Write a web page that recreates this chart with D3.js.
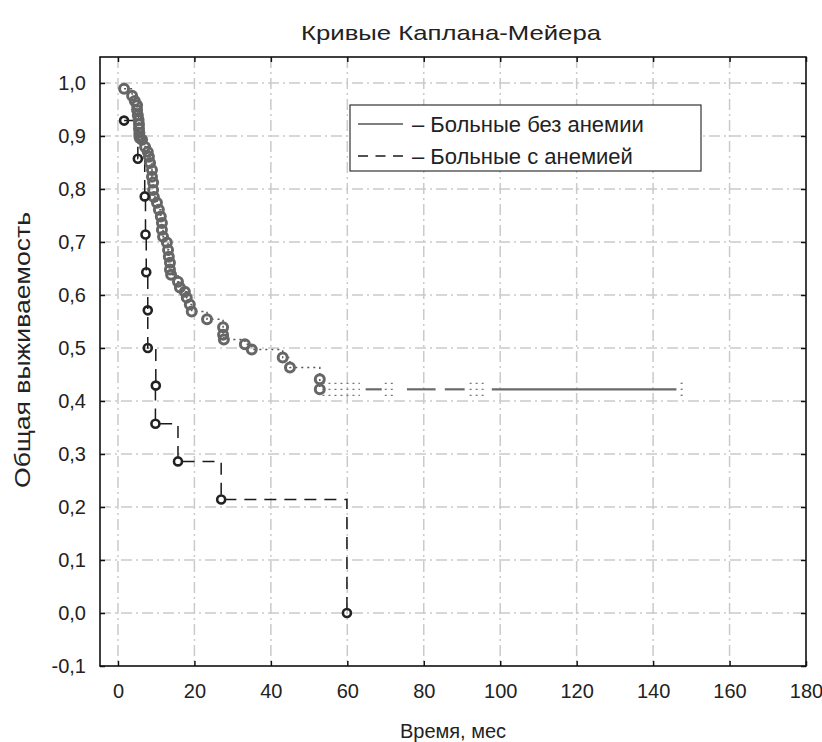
<!DOCTYPE html>
<html>
<head>
<meta charset="utf-8">
<script src="https://cdn.jsdelivr.net/npm/d3@7"></script>
<style>
	body { margin: 0; background: #fff; }
	text { font-family: "Liberation Sans", Arial, sans-serif; fill: #222; }
</style>
</head>
<body>
<svg id="chart" width="822" height="742"></svg>
<script>
(function() {
	'use strict';

	// Больные без анемии: время (мес) и выживаемость в точках
	var noAnemiaTime = [1.6, 3.7, 4.4, 5.0, 5.0, 5.2, 5.4, 5.5, 5.5, 5.6, 5.6, 5.7, 6.3, 7.1, 7.8, 8.1, 8.4, 8.9, 8.9, 9.2, 9.2, 9.4,
		10.2, 10.7, 11.2, 11.5, 11.5, 11.8, 12.8, 13.1, 13.3, 13.6, 13.6, 13.9, 15.7, 16.2, 17.5, 18.0, 18.8, 19.3,
		23.3, 27.5, 27.5, 27.7, 33.2, 35.0, 43.1, 45.0, 52.8, 52.8];
	var noAnemiaSurv = [0.989, 0.976, 0.966, 0.958, 0.949, 0.939, 0.930, 0.922, 0.914, 0.906, 0.900, 0.896, 0.893, 0.879, 0.870, 0.861, 0.849, 0.836, 0.823, 0.812, 0.798, 0.785,
		0.774, 0.761, 0.748, 0.736, 0.723, 0.710, 0.699, 0.685, 0.672, 0.661, 0.648, 0.638, 0.625, 0.614, 0.606, 0.595, 0.582, 0.569,
		0.554, 0.539, 0.525, 0.516, 0.507, 0.497, 0.482, 0.463, 0.441, 0.422];
	// куски хвоста кривой (как на исходном рисунке)
	var tailSolid = [[64.8, 69.0], [75.6, 83.1], [85.5, 90.7], [97.8, 146.1]];
	var tailDotted = [[53.5, 63.3], [69.8, 72.4], [92.0, 96.0], [147.2, 148.2]];

	// Больные с анемией
	var anemiaTime = [1.6, 5.2, 7.0, 7.2, 7.4, 7.8, 7.8, 9.9, 9.8, 15.7, 27.0, 59.9];
	var anemiaSurv = [0.929, 0.857, 0.786, 0.714, 0.643, 0.571, 0.500, 0.429, 0.357, 0.286, 0.214, 0.0];

	var xTicks = [0, 20, 40, 60, 80, 100, 120, 140, 160, 180];
	var yTicks = [-0.1, 0.0, 0.1, 0.2, 0.3, 0.4, 0.5, 0.6, 0.7, 0.8, 0.9, 1.0];
	var legendLabels = ['– Больные без анемии', '– Больные с анемией'];

	var title = 'Кривые Каплана-Мейера';
	var xTitle = 'Время, мес';
	var yTitle = 'Общая выживаемость';

	var left = 100, right = 806, top = 57, bottom = 666;
	var svg = d3.select('#chart');

	var x = d3.scaleLinear().domain([-4.7, 180]).range([left, right]);
	var y = d3.scaleLinear().domain([-0.1, 1.049]).range([bottom, top]);
	var fmt = function(v) { return d3.format('.1f')(v).replace('.', ',').replace('−', '-'); };

	// сетка
	var grid = svg.append('g')
		.attr('stroke', '#cacaca')
		.attr('stroke-width', 1.5)
		.attr('stroke-dasharray', '11,4,2,4');
	grid.selectAll('.gx').data(xTicks.filter(function(d) { return d < 180; }))
		.enter().append('line')
		.attr('x1', function(d) { return x(d); }).attr('x2', function(d) { return x(d); })
		.attr('y1', top).attr('y2', bottom);
	grid.selectAll('.gy').data(yTicks.filter(function(d) { return d > -0.1; }))
		.enter().append('line')
		.attr('y1', function(d) { return y(d); }).attr('y2', function(d) { return y(d); })
		.attr('x1', left).attr('x2', right);

	// оси с внутренними засечками
	var axB = svg.append('g').attr('transform', 'translate(0,' + bottom + ')')
		.call(d3.axisBottom(x).tickValues(xTicks).tickSize(-5).tickPadding(18).tickFormat(d3.format('d')));
	var axT = svg.append('g').attr('transform', 'translate(0,' + top + ')')
		.call(d3.axisTop(x).tickValues(xTicks).tickSize(-5).tickFormat(''));
	var axL = svg.append('g').attr('transform', 'translate(' + left + ',0)')
		.call(d3.axisLeft(y).tickValues(yTicks).tickSize(-5).tickPadding(14).tickFormat(fmt));
	var axR = svg.append('g').attr('transform', 'translate(' + right + ',0)')
		.call(d3.axisRight(y).tickValues(yTicks).tickSize(-5).tickFormat(''));
	[axB, axT, axL, axR].forEach(function(a) {
		a.select('.domain').remove();
		a.selectAll('.tick line').attr('stroke', '#111').attr('stroke-width', 1.5);
		a.selectAll('text').attr('font-size', 20).attr('fill', '#222')
			.attr('font-family', '"Liberation Sans", Arial, sans-serif');
	});
	svg.append('rect')
		.attr('x', left).attr('y', top)
		.attr('width', right - left).attr('height', bottom - top)
		.attr('fill', 'none').attr('stroke', '#111').attr('stroke-width', 1.6);

	// ступенчатые кривые
	function stepPoints(times, surv) {
		var pts = [[times[0], surv[0]]];
		for (var i = 1; i < times.length; i++) {
			pts.push([times[i], surv[i - 1]]);
			pts.push([times[i], surv[i]]);
		}
		return pts;
	}
	var line = d3.line().x(function(d) { return x(d[0]); }).y(function(d) { return y(d[1]); });

	svg.append('path')
		.attr('d', line(stepPoints(noAnemiaTime, noAnemiaSurv)))
		.attr('fill', 'none').attr('stroke', '#555')
		.attr('stroke-width', 1.5).attr('stroke-dasharray', '2,4');

	var lastS = noAnemiaSurv[noAnemiaSurv.length - 1];
	svg.selectAll('.tailS').data(tailSolid).enter().append('line')
		.attr('x1', function(d) { return x(d[0]); }).attr('x2', function(d) { return x(d[1]); })
		.attr('y1', y(lastS)).attr('y2', y(lastS))
		.attr('stroke', '#6a6a6a').attr('stroke-width', 2.2);
	[-6, 0, 6].forEach(function(off) {
		svg.selectAll('.tailD' + (off + 6)).data(tailDotted).enter().append('line')
			.attr('x1', function(d) { return x(d[0]); }).attr('x2', function(d) { return x(d[1]); })
			.attr('y1', y(lastS) + off).attr('y2', y(lastS) + off)
			.attr('stroke', '#777').attr('stroke-width', 1.4)
			.attr('stroke-dasharray', '2,4');
	});

	svg.append('path')
		.attr('d', line(stepPoints(anemiaTime, anemiaSurv)))
		.attr('fill', 'none').attr('stroke', '#1a1a1a')
		.attr('stroke-width', 1.5).attr('stroke-dasharray', '12,8');

	// маркеры
	svg.append('g').selectAll('circle')
		.data(d3.zip(noAnemiaTime, noAnemiaSurv))
		.enter().append('circle')
		.attr('cx', function(d) { return x(d[0]); })
		.attr('cy', function(d) { return y(d[1]); })
		.attr('r', 4.5)
		.attr('fill', 'none').attr('stroke', '#666').attr('stroke-width', 3);

	svg.append('g').selectAll('circle')
		.data(d3.zip(anemiaTime, anemiaSurv))
		.enter().append('circle')
		.attr('cx', function(d) { return x(d[0]); })
		.attr('cy', function(d) { return y(d[1]); })
		.attr('r', 4)
		.attr('fill', 'none').attr('stroke', '#222').attr('stroke-width', 2.6);

	// легенда
	var lg = svg.append('g');
	lg.append('rect')
		.attr('x', 350).attr('y', 105).attr('width', 351).attr('height', 66)
		.attr('fill', '#fff').attr('stroke', '#333').attr('stroke-width', 1.2);
	lg.selectAll('line').data(legendLabels).enter().append('line')
		.attr('x1', 358).attr('x2', 403)
		.attr('y1', function(d, i) { return 124 + i * 32; })
		.attr('y2', function(d, i) { return 124 + i * 32; })
		.attr('stroke', function(d, i) { return i ? '#1a1a1a' : '#555'; })
		.attr('stroke-width', 1.4)
		.attr('stroke-dasharray', function(d, i) { return i ? '10,7.5' : null; });
	lg.selectAll('text').data(legendLabels).enter().append('text')
		.attr('x', 412)
		.attr('y', function(d, i) { return 132 + i * 32; })
		.attr('font-size', 22)
		.text(function(d) { return d; });

	// подписи
	svg.append('text').attr('x', 451).attr('y', 40).attr('text-anchor', 'middle')
		.attr('font-size', 21).attr('textLength', 300).attr('lengthAdjust', 'spacingAndGlyphs')
		.attr('fill', '#333')
		.text(title);
	svg.append('text').attr('x', 453).attr('y', 738).attr('text-anchor', 'middle')
		.attr('font-size', 20).text(xTitle);
	svg.append('text').attr('transform', 'translate(30,' + 350 + ') rotate(-90)')
		.attr('text-anchor', 'middle').attr('font-size', 22)
		.attr('textLength', 276).attr('lengthAdjust', 'spacingAndGlyphs')
		.text(yTitle);
})();
</script>
</body>
</html>
